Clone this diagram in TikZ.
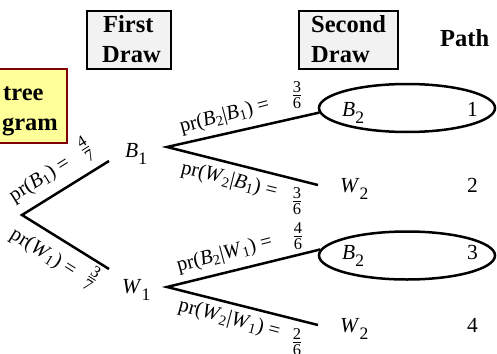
\documentclass[tikz,border=0pt]{standalone}
\usepackage{fontspec}
\setmainfont{Liberation Serif}
\usetikzlibrary{shapes.geometric}
\definecolor{boxgray}{HTML}{F2F2F2}
\definecolor{noteyellow}{HTML}{FFFF99}
\definecolor{notered}{HTML}{800000}
\newcommand\nsub[1]{\raisebox{-0.33em}{\fontsize{17.5}{18}\selectfont #1}}
\newcommand\fr[2]{{\fontsize{16.5}{19}\selectfont\setlength\arrayrulewidth{0.8pt}\begin{tabular}{@{}c@{}}#1\\[-4pt]\hline #2\end{tabular}}}
\begin{document}
\begin{tikzpicture}[x=1pt,y=-1pt,
  txt/.style={inner sep=0pt, anchor=base west},
  hd/.style={txt, font=\fontsize{24.5}{29}\selectfont\bfseries},
  lbl/.style={txt, font=\fontsize{21.5}{25}\selectfont},
  prl/.style={inner sep=0pt, anchor=base, font=\fontsize{20.5}{24}\selectfont},
  frc/.style={inner sep=0pt},
  branch/.style={line width=2.5pt},
  headbox/.style={draw=black, line width=1.2pt, fill=boxgray, inner sep=0pt},
  notebox/.style={draw=notered, line width=2pt, fill=noteyellow, inner sep=0pt},
  oval/.style={ellipse, draw=black, line width=2.5pt, inner sep=0pt, minimum width=176pt, minimum height=48pt}]
\useasboundingbox (0,0) rectangle (497,353);
% heading boxes
\node[headbox, minimum width=84pt, minimum height=58pt] (fdbox) at (129,40) {};
\node[hd] (fd1) at (103,33) {First};
\node[hd] (fd2) at (102,63) {Draw};
\node[headbox, minimum width=99pt, minimum height=58pt] (sdbox) at (348.5,40) {};
\node[hd] (sd1) at (311,33) {Second};
\node[hd] (sd2) at (311,63) {Draw};
\node[hd] (path) at (440,46) {Path};
% note box (cut by the left edge)
\begin{scope}
\clip (0,0) rectangle (497,353);
\node[notebox, minimum width=80pt, minimum height=74pt] (note) at (27,105.5) {};
\end{scope}
\node[hd] (nt1) at (3,100) {tree};
\node[hd, anchor=base east] (nt2) at (58,130) {gram};
% tree
\coordinate (root) at (22,215);
\coordinate (b1) at (109,161);
\coordinate (w1) at (109,269);
\coordinate (b1f) at (167,147);
\coordinate (w1f) at (167,287);
\coordinate (bwend) at (318,185);
\coordinate (wwend) at (318,325);
\node[oval] (e1) at (407,108) {};
\node[oval] (e2) at (407,255.5) {};
\draw[branch] (b1) -- (root) -- (w1);
\draw[branch] (e1.183) -- (b1f) -- (bwend);
\draw[branch] (e2.176) -- (w1f) -- (wwend);
% outcome labels
\node[lbl] (B1) at (125,157) {\textit{B}\nsub{1}};
\node[lbl] (W1) at (122,293) {\textit{W}\nsub{1}};
\node[lbl] (B2a) at (342,116) {\textit{B}\nsub{2}};
\node[lbl] (W2a) at (340,192) {\textit{W}\nsub{2}};
\node[lbl] (B2b) at (342,259) {\textit{B}\nsub{2}};
\node[lbl] (W2b) at (340,332) {\textit{W}\nsub{2}};
\node[lbl] (n1) at (467,116) {1};
\node[lbl] (n2) at (467,192) {2};
\node[lbl] (n3) at (467,259) {3};
\node[lbl] (n4) at (467,332) {4};
% probabilities
\node[prl, anchor=center, rotate=32] (L1) at (40,180) {pr(\textit{B}\textsubscript{1}) =};
\node[frc, rotate=32] (F1) at (86.5,150) {\fr{4}{7}};
\node[prl, anchor=center, rotate=-32] (L2) at (43,253) {pr(\textit{W}\textsubscript{1}) =};
\node[frc, rotate=-32] (F2) at (91,280) {\fr{3}{7}};
\node[prl, rotate=15] (L3) at (226,121) {pr(\textit{B}\textsubscript{2}|\textit{B}\textsubscript{1}) =};
\node[frc] (F3) at (297,97) {\fr{3}{6}};
\node[prl, rotate=-14] (L4) at (228,185) {pr(\textit{W}\textsubscript{2}|\textit{B}\textsubscript{1}) =};
\node[frc] (F4) at (297,203) {\fr{3}{6}};
\node[prl, rotate=15] (L5) at (226,259) {pr(\textit{B}\textsubscript{2}|\textit{W}\textsubscript{1}) =};
\node[frc] (F5) at (298,238) {\fr{4}{6}};
\node[prl, rotate=-15] (L6) at (228,324) {pr(\textit{W}\textsubscript{2}|\textit{W}\textsubscript{1}) =};
\node[frc] (F6) at (297,344) {\fr{2}{6}};
\end{tikzpicture}
\end{document}
